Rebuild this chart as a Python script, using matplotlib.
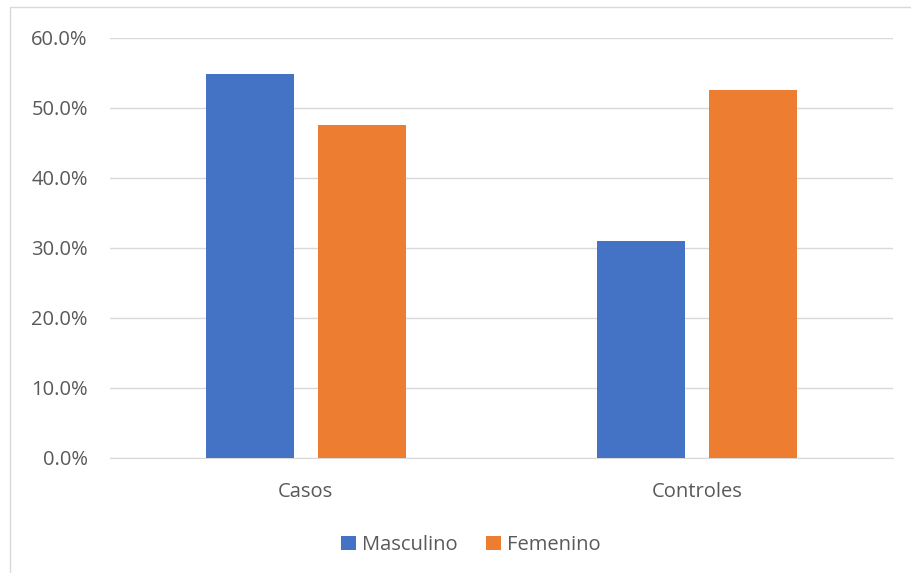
import numpy as np
import matplotlib.pyplot as plt
from matplotlib.patches import Rectangle
from matplotlib.ticker import FuncFormatter

# Percentages by group and sex
grupos = ['Casos', 'Controles']
masculino = [54.8, 31.0]
femenino = [47.5, 52.5]

azul = '#4472C4'
naranja = '#ED7D31'
gris_texto = '#595959'

plt.rcParams['font.family'] = ['Open Sans', 'DejaVu Sans']
tam = 14.5

fig = plt.figure(figsize=(9.12, 5.73), dpi=100)
ax = fig.add_axes([0.1206, 0.2007, 0.8584, 0.733])

# chart border
fig.patches.append(Rectangle((10 / 912, -0.01), 1.0, 1 - 7 / 573 + 0.01,
                             transform=fig.transFigure, fill=False,
                             edgecolor='#d9d9d9', linewidth=1.0))

x = np.arange(len(grupos))
ancho = 0.225
desp = 0.143
ax.bar(x - desp, masculino, ancho, color=azul, label='Masculino', zorder=3)
ax.bar(x + desp, femenino, ancho, color=naranja, label='Femenino', zorder=3)

ax.set_xlim(-0.5, 1.5)
ax.set_ylim(0, 60)
ax.set_yticks(np.arange(0, 61, 10))
ax.yaxis.set_major_formatter(FuncFormatter(lambda v, p: f'{v:.1f}%'))
ax.set_xticks(x)
ax.set_xticklabels(grupos)
ax.grid(axis='y', color='#d9d9d9', linewidth=1.0, zorder=0)
ax.tick_params(length=0, labelsize=tam, colors=gris_texto)
ax.tick_params(axis='y', pad=16)
ax.tick_params(axis='x', pad=17)
for s in ['top', 'right', 'left']:
    ax.spines[s].set_visible(False)
ax.spines['bottom'].set_color('#d9d9d9')

leg = fig.legend(loc='center', bbox_to_anchor=(470.5 / 912, 1 - 545 / 573),
                 ncol=2, frameon=False, fontsize=tam, handlelength=0.75,
                 handleheight=0.75, handletextpad=0.3, columnspacing=1.4)
for t in leg.get_texts():
    t.set_color(gris_texto)

fig.savefig('out.png', dpi=100)
